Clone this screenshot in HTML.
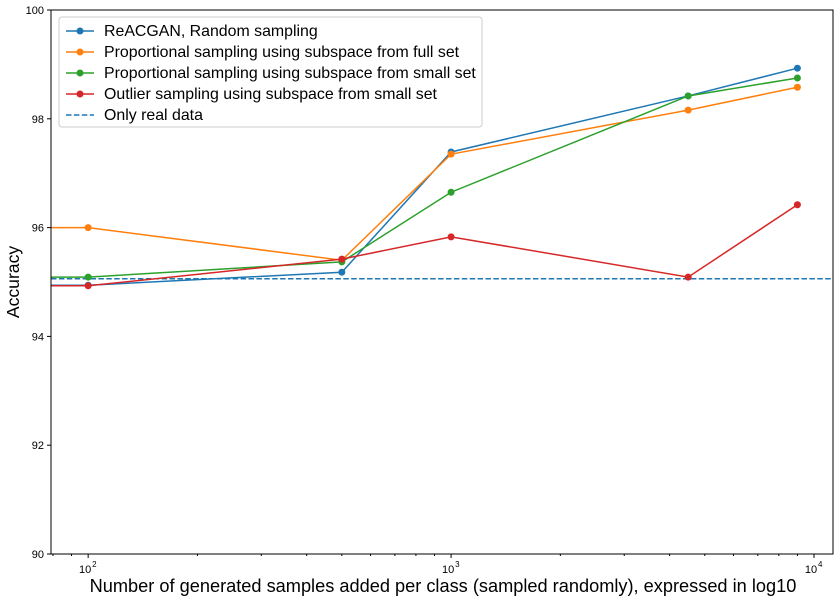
<!DOCTYPE html>
<html><head><meta charset="utf-8"><style>
body{margin:0;background:#fff;}
svg{font-family:"Liberation Sans","DejaVu Sans",sans-serif;}
</style></head><body>
<svg id="chart" width="840" height="601" xmlns="http://www.w3.org/2000/svg">
<defs><clipPath id="clip"><rect x="51" y="10" width="782" height="544"/></clipPath></defs>
<rect x="0" y="0" width="840" height="601" fill="#fff"/>
<g id="series" clip-path="url(#clip)"></g>
<rect x="51" y="10" width="782" height="544" fill="none" stroke="#000" stroke-width="1"/>
<g id="axes"></g>
<text x="443" y="592" text-anchor="middle" font-size="18.2">Number of generated samples added per class (sampled randomly), expressed in log10</text>
<text transform="translate(19,282) rotate(-90)" text-anchor="middle" font-size="17.6">Accuracy</text>
<g id="legend"></g>
</svg>
<script>
const xValues=[50,100,500,1000,4500,9000];
const seriesNames=["ReACGAN, Random sampling","Proportional sampling using subspace from full set","Proportional sampling using subspace from small set","Outlier sampling using subspace from small set"];
const blueVals=[94.94,94.94,95.18,97.39,98.42,98.93];
const orangeVals=[96.0,96.0,95.40,97.35,98.16,98.58];
const greenVals=[95.09,95.09,95.37,96.65,98.42,98.75];
const redVals=[94.93,94.93,95.42,95.83,95.09,96.42];
const baselineVal=[95.06];
const yTicks=[90,92,94,96,98,100];
const xMajor=[100,1000,10000];
const xMajorExp=["2","3","4"];
const colors=["#1f77b4","#ff7f0e","#2ca02c","#d62728"];
const NS="http://www.w3.org/2000/svg";
const X0=51,X1=833,Y0=10,Y1=554;
const lmin=Math.log10(79),lmax=Math.log10(11280);
function xs(v){return X0+(Math.log10(v)-lmin)/(lmax-lmin)*(X1-X0);}
function ys(v){return Y1-(v-90)/10*(Y1-Y0);}
function mk(tag,at,parent){const e=document.createElementNS(NS,tag);for(const k in at)e.setAttribute(k,at[k]);parent.appendChild(e);return e;}
const axes=document.getElementById('axes'),ser=document.getElementById('series'),leg=document.getElementById('legend');
yTicks.forEach(t=>{const y=ys(t);
 const l=mk('line',{x1:X0-4,x2:X0,y1:y,y2:y,stroke:'#000'},axes);
 
 
 const tx=mk('text',{x:X0-7,y:y+4,'text-anchor':'end','font-size':'11'},axes);tx.textContent=t;
 
 
});
xMajor.forEach((t,i)=>{const x=xs(t);
 const l=mk('line',{x1:x,x2:x,y1:Y1,y2:Y1+4,stroke:'#000'},axes);
 
 
 const tx=mk('text',{x:x-3,y:Y1+19,'text-anchor':'middle','font-size':'11'},axes);tx.textContent='10';
 
 
 const sp=mk('text',{x:x+4,y:Y1+13,'text-anchor':'start','font-size':'8'},axes);sp.textContent=xMajorExp[i];
});
for(let d=1;d<=4;d++){for(let m=2;m<=9;m++){const v=m*Math.pow(10,d);const x=xs(v);if(x<X0||x>X1)continue;
 const l=mk('line',{x1:x,x2:x,y1:Y1,y2:Y1+2,stroke:'#000'},axes);
 
 }}
const bl=mk('line',{x1:X0,x2:X1,y1:ys(baselineVal[0]),y2:ys(baselineVal[0]),stroke:'#1f77b4','stroke-width':1.5,'stroke-dasharray':'5.5,2.4'},ser);


[blueVals,orangeVals,greenVals,redVals].forEach((vals,si)=>{
 const pts=vals.map((v,i)=>xs(xValues[i])+','+ys(v)).join(' ');
 const pl=mk('polyline',{points:pts,fill:'none',stroke:colors[si],'stroke-width':1.5},ser);
 
 
 vals.forEach((v,i)=>{const c=mk('circle',{cx:xs(xValues[i]),cy:ys(v),r:3.5,fill:colors[si]},ser);
  
  });
});
const lb=mk('rect',{x:59,y:17,width:423,height:110,rx:3,fill:'#fff','fill-opacity':0.8,stroke:'#ccc'},leg);


const labels=seriesNames.concat(["Only real data"]);
labels.forEach((n,i)=>{const y=31+i*21;
 const col=i<4?colors[i]:'#1f77b4';
 const l=mk('line',{x1:66,x2:94,y1:y,y2:y,stroke:col,'stroke-width':1.5},leg);
 if(i<4){mk('circle',{cx:80,cy:y,r:3.5,fill:col},leg);}else{l.setAttribute('stroke-dasharray','5.5,2.4');}
 const t=mk('text',{x:104,y:y+5,'font-size':'15.9'},leg);t.textContent=n;
 
 
});
</script>
</body></html>
